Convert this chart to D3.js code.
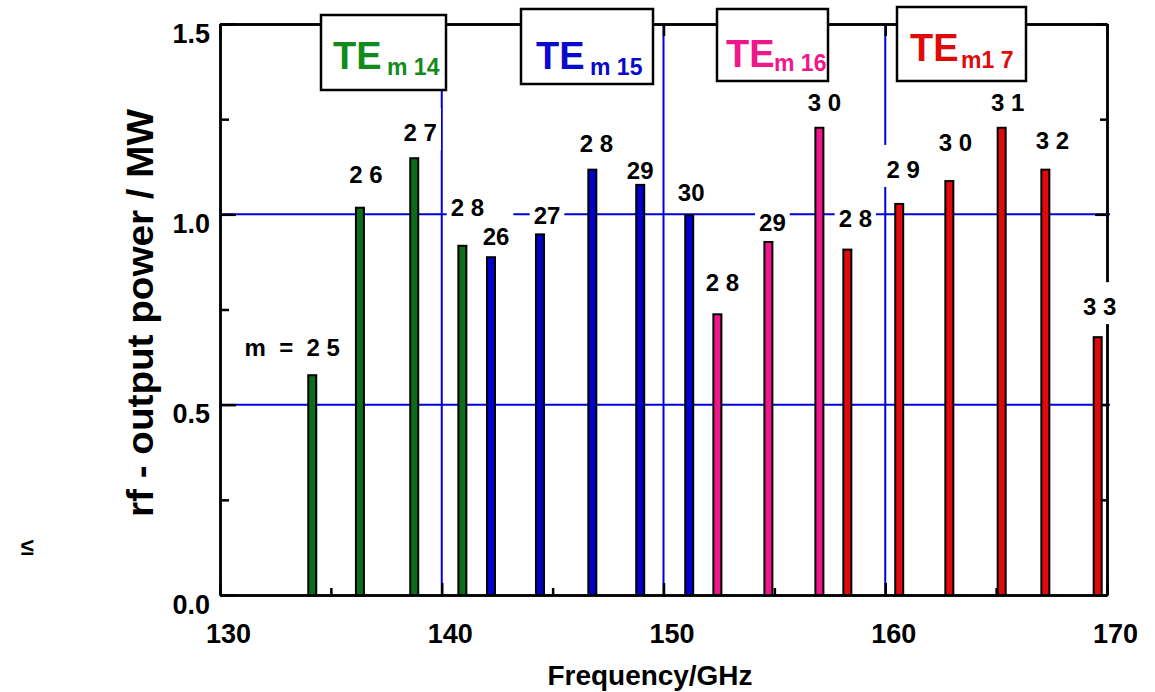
<!DOCTYPE html>
<html>
<head>
<meta charset="utf-8">
<script src="https://cdn.jsdelivr.net/npm/d3@7"></script>
<style>
  body { margin: 0; background: #fff; }
  text { font-family: "Liberation Sans", Arial, sans-serif; font-weight: bold; }
</style>
</head>
<body>
<div id="container"></div>
<script>
// values: frequency (GHz), power (MW), mode label
var freq14 = [134.16, 136.31, 138.76, 140.93];
var power14 = [0.58, 1.02, 1.15, 0.92];
var labels14 = ["m  =  2 5", "2 6", "2 7", "2 8"];

var freq15 = [142.22, 144.43, 146.79, 148.95, 151.16];
var power15 = [0.89, 0.95, 1.12, 1.08, 1.0];
var labels15 = ["26", "27", "2 8", "29", "30"];

var freq16 = [152.43, 154.73, 157.03];
var power16 = [0.74, 0.93, 1.23];
var labels16 = ["2 8", "29", "3 0"];

var freq17 = [158.29, 160.63, 162.89, 165.25, 167.22, 169.58];
var power17 = [0.91, 1.03, 1.09, 1.23, 1.12, 0.68];
var labels17 = ["2 8", "2 9", "3 0", "3 1", "3 2", "3 3"];

var modeSubs = ["m 14", "m 15", "m 16", "m1 7"];
var xTicks = [130, 140, 150, 160, 170];
var xMinor = [135, 145, 155, 165];
var yTicks = [0, 0.5, 1.0, 1.5];
var yMinor = [0.25, 0.75, 1.25];
var gridY = [0.5, 1.0];
var gridX = [140, 150, 160];

// styling / layout
var barFill = ["#0d6e19", "#0000cc", "#f0168c", "#e00a0a"];
var modeText = ["#138a1c", "#0a0acc", "#f0168c", "#e00a0a"];
var lineBlue = "#0000dd";
// label nudges (px) from bar top centre
var nudges = [
  [[-20, -18], [6, -24], [6, -16], [5, -29]],
  [[5, -11], [7, -9], [4, -17], [0, -5], [2, -13]],
  [[5, -22], [4, -10], [5, -16]],
  [[8, -22], [4, -25], [6, -29], [6, -16], [7, -20], [2, -21]]
];
// title boxes: [x, y, w, h, teX, teY, subX, subY]
var boxes = [
  [321, 15, 125, 75, 333, 69, 387, 75],
  [521, 9, 132, 75, 536, 69, 590, 75],
  [717, 9, 111, 72, 726, 67, 774, 71],
  [897, 7, 129, 74, 910, 61, 961, 68]
];

var series = [
  { freq: freq14, power: power14, labels: labels14 },
  { freq: freq15, power: power15, labels: labels15 },
  { freq: freq16, power: power16, labels: labels16 },
  { freq: freq17, power: power17, labels: labels17 }
];

var w = 1155;
var h = 692;
var barW = 8;

var svg = d3
  .select("#container")
  .append("svg")
  .attr("width", w)
  .attr("height", h);

var xScale = d3.scaleLinear().domain([130, 170]).range([220, 1107]);
var yScale = d3.scaleLinear().domain([0, 1.5]).range([595, 24]);

// blue grid lines
svg
  .selectAll(".gridy")
  .data(gridY)
  .enter()
  .append("line")
  .attr("x1", xScale(130))
  .attr("x2", xScale(170) + 3)
  .attr("y1", (d) => yScale(d))
  .attr("y2", (d) => yScale(d))
  .attr("stroke", lineBlue)
  .attr("stroke-width", 2);

svg
  .selectAll(".gridx")
  .data(gridX)
  .enter()
  .append("line")
  .attr("x1", (d) => xScale(d))
  .attr("x2", (d) => xScale(d))
  .attr("y1", yScale(1.5))
  .attr("y2", yScale(0))
  .attr("stroke", lineBlue)
  .attr("stroke-width", 2);

// frame axes with inward ticks
function styleAxis(g) {
  g.selectAll("path, line").attr("stroke", "#000").attr("stroke-width", 2.5);
  g.selectAll("text").attr("fill", "#000").style("font-size", "27px");
}

svg
  .append("g")
  .attr("transform", "translate(0," + yScale(0) + ")")
  .call(d3.axisBottom(xScale).tickValues(xTicks).tickSize(-12).tickSizeOuter(0).tickPadding(29).tickFormat(d3.format("d")))
  .call(styleAxis)
  .call((g) => g.selectAll("text").attr("dx", 8));

svg
  .append("g")
  .attr("transform", "translate(0," + yScale(0) + ")")
  .call(d3.axisBottom(xScale).tickValues(xMinor).tickSize(-7).tickSizeOuter(0).tickFormat(""))
  .call(styleAxis);

svg
  .append("g")
  .attr("transform", "translate(0," + yScale(1.5) + ")")
  .call(d3.axisTop(xScale).tickValues(xTicks).tickSize(-12).tickSizeOuter(0).tickFormat(""))
  .call(styleAxis);

svg
  .append("g")
  .attr("transform", "translate(0," + yScale(1.5) + ")")
  .call(d3.axisTop(xScale).tickValues(xMinor).tickSize(-7).tickSizeOuter(0).tickFormat(""))
  .call(styleAxis);

svg
  .append("g")
  .attr("transform", "translate(" + xScale(130) + ",0)")
  .call(d3.axisLeft(yScale).tickValues(yTicks).tickSize(-16).tickSizeOuter(0).tickPadding(10).tickFormat(d3.format(".1f")))
  .call(styleAxis)
  .call((g) => g.selectAll("text").attr("dy", "0.67em"));

svg
  .append("g")
  .attr("transform", "translate(" + xScale(130) + ",0)")
  .call(d3.axisLeft(yScale).tickValues(yMinor).tickSize(-9).tickSizeOuter(0).tickFormat(""))
  .call(styleAxis);

svg
  .append("g")
  .attr("transform", "translate(" + xScale(170) + ",0)")
  .call(d3.axisRight(yScale).tickValues(yTicks).tickSize(-12).tickSizeOuter(0).tickFormat(""))
  .call(styleAxis);

svg
  .append("g")
  .attr("transform", "translate(" + xScale(170) + ",0)")
  .call(d3.axisRight(yScale).tickValues(yMinor).tickSize(-7).tickSizeOuter(0).tickFormat(""))
  .call(styleAxis);

// bar labels with white backgrounds (they break the lines behind them)
var bgLayer = svg.append("g");
var labelLayer = svg.append("g");
series.forEach(function (s, k) {
  s.freq.forEach(function (f, i) {
    var lx = xScale(f) + nudges[k][i][0];
    var ly = yScale(s.power[i]) + nudges[k][i][1];
    var t = labelLayer
      .append("text")
      .attr("x", lx)
      .attr("y", ly)
      .attr("text-anchor", "middle")
      .style("font-size", "24px")
      .style("white-space", "pre")
      .attr("fill", "#000")
      .text(s.labels[i]);
    var bb = t.node().getBBox();
    bgLayer
      .append("rect")
      .attr("fill", "#fff")
      .attr("x", bb.x - 4)
      .attr("y", ly - 33)
      .attr("width", bb.width + 8)
      .attr("height", 42);
  });
});

// mode title boxes
boxes.forEach(function (b, k) {
  svg
    .append("rect")
    .attr("x", b[0])
    .attr("y", b[1])
    .attr("width", b[2])
    .attr("height", b[3])
    .attr("fill", "#fff")
    .attr("stroke", "#000")
    .attr("stroke-width", 2.5);
  svg
    .append("text")
    .attr("x", b[4])
    .attr("y", b[5])
    .attr("fill", modeText[k])
    .style("font-size", "38px")
    .text("TE");
  svg
    .append("text")
    .attr("x", b[6])
    .attr("y", b[7])
    .attr("fill", modeText[k])
    .style("font-size", "23px")
    .style("white-space", "pre")
    .text(modeSubs[k]);
});

// bars
series.forEach(function (s, k) {
  svg
    .append("g")
    .selectAll("rect")
    .data(s.freq)
    .enter()
    .append("rect")
    .attr("x", (d) => xScale(d) - barW / 2)
    .attr("y", (d, i) => yScale(s.power[i]) + 1)
    .attr("width", barW)
    .attr("height", (d, i) => yScale(0) - yScale(s.power[i]) - 1)
    .attr("fill", barFill[k])
    .attr("stroke", "#000")
    .attr("stroke-width", 2);
});

// axis titles
svg
  .append("text")
  .attr("transform", "translate(153,313) rotate(-90)")
  .attr("text-anchor", "middle")
  .attr("textLength", 408)
  .attr("lengthAdjust", "spacingAndGlyphs")
  .style("font-size", "36px")
  .attr("fill", "#000")
  .text("rf - output power / MW");

svg
  .append("text")
  .attr("x", 650)
  .attr("y", 685)
  .attr("text-anchor", "middle")
  .attr("textLength", 205)
  .attr("lengthAdjust", "spacingAndGlyphs")
  .style("font-size", "27px")
  .attr("fill", "#000")
  .text("Frequency/GHz");

svg
  .append("text")
  .attr("x", 27)
  .attr("y", 555)
  .attr("text-anchor", "middle")
  .style("font-size", "24px")
  .attr("fill", "#000")
  .text("≤");
</script>
</body>
</html>
